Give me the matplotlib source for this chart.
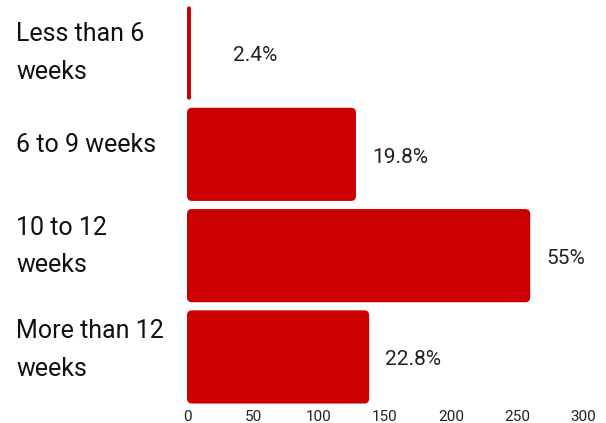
import matplotlib
matplotlib.use("Agg")
import matplotlib.pyplot as plt
from matplotlib.patches import FancyBboxPatch

plt.rcParams['font.family'] = ['Roboto', 'DejaVu Sans']

# Data
categories = ["Less than 6\nweeks", "6 to 9 weeks", "10 to 12\nweeks", "More than 12\nweeks"]
counts = [3, 128, 260, 138]
pct_labels = ["2.4%", "19.8%", "55%", "22.8%"]
x_ticks = [0, 50, 100, 150, 200, 250, 300]

bar_color = "#cc0000"
# small vertical nudges (points) for the category labels, as in the original layout
label_nudge = [0, 7, 6.5, 5]

fig = plt.figure(figsize=(6.06, 4.23), dpi=100)
ax = fig.add_axes([187 / 606, 15.4 / 423, 396 / 606, 405.2 / 423])

ypos = list(range(len(categories)))
bars = ax.barh(ypos, counts, height=0.92, color=bar_color)

# swap plain rectangles for rounded ones
px_x = 396 / 300      # pixels per x unit
px_y = 405.2 / 4      # pixels per y unit
for rect in bars:
    x, y = rect.get_x(), rect.get_y()
    w, h = rect.get_width(), rect.get_height()
    r = min(5 / px_x, w / 2)
    patch = FancyBboxPatch((x, y), w, h,
                           boxstyle=f"round,pad=0,rounding_size={r}",
                           mutation_aspect=px_x / px_y,
                           facecolor=bar_color, edgecolor="none")
    rect.remove()
    ax.add_patch(patch)

for i, (v, lab) in enumerate(zip(counts, pct_labels)):
    ax.annotate(lab, xy=(max(v, 23), i), xytext=(11.5, -2), textcoords="offset points",
                va="center", ha="left", fontsize=15, color="#222222")

ax.set_xlim(0, 300)
ax.set_ylim(len(categories) - 0.5, -0.5)
ax.set_xticks(x_ticks)
ax.set_xticklabels([str(t) for t in x_ticks], fontsize=11, color="#222222")
ax.tick_params(axis="x", length=0, pad=2)
ax.set_yticks([])
for s in ax.spines.values():
    s.set_visible(False)

for i, c in enumerate(categories):
    ax.annotate(c, xy=(0, i), xytext=(-171 * 0.72, label_nudge[i]),
                textcoords="offset points", ha="left", va="center",
                fontsize=18, linespacing=1.72, color="#111111")

fig.savefig("out.png", dpi=100)
